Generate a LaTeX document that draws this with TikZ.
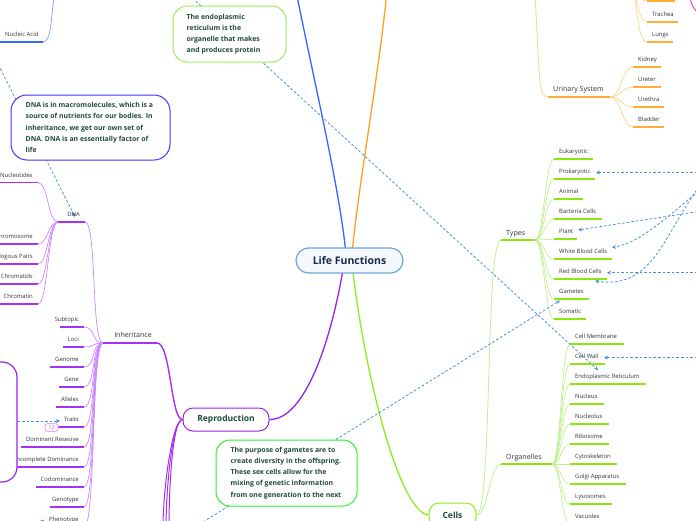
\documentclass[tikz,border=0pt]{standalone}
\usepackage{fontspec}
\setmainfont{Open Sans}
\usetikzlibrary{arrows.meta}
\pgfdeclarelayer{bg}\pgfdeclarelayer{mid}\pgfsetlayers{bg,mid,main}
\definecolor{txt}{HTML}{333333}
\definecolor{callt}{HTML}{1F4A3C}
\definecolor{navy}{HTML}{1B2A4E}
\definecolor{ctrB}{HTML}{6EA6D8}
\definecolor{ctrF}{HTML}{F4F8FC}
\definecolor{blueB}{HTML}{3366FF}
\definecolor{blueL}{HTML}{7A9BFF}
\definecolor{orgB}{HTML}{FFA020}
\definecolor{orgU}{HTML}{FFAE3A}
\definecolor{orgL}{HTML}{FFD38A}
\definecolor{purB}{HTML}{9A22E8}
\definecolor{purU}{HTML}{A830F0}
\definecolor{purL}{HTML}{CC88FF}
\definecolor{grnB}{HTML}{88EE22}
\definecolor{grnU}{HTML}{88E810}
\definecolor{grnL}{HTML}{C0F090}
\definecolor{relc}{HTML}{4A90E2}
\definecolor{dnaBd}{HTML}{4433FF}
\definecolor{endBd}{HTML}{99EE55}
\definecolor{gamBd}{HTML}{33EE33}
\definecolor{magL}{HTML}{EE44CC}
% left-side leaf: name, text, x left, x right, y of underline, colour
\newcommand\leafL[6]{%
  \coordinate (#1-l) at (#3,#5);
  \coordinate (#1-r) at (#4,#5);
  \draw[ul,#6] (#1-l) -- (#1-r);
  \node[lbl,anchor=base east] (#1) at (#4-5,#5-5.5) {#2};}
% right-side leaf
\newcommand\leafR[6]{%
  \coordinate (#1-l) at (#3,#5);
  \coordinate (#1-r) at (#4,#5);
  \draw[ul,#6] (#1-l) -- (#1-r);
  \node[lbl,anchor=base west] (#1) at (#3+5,#5-5.5) {#2};}
\begin{document}
\begin{tikzpicture}[x=1pt,y=-1pt,
  lbl/.style={font=\fontsize{5.9}{7}\selectfont,text=txt,inner sep=0pt},
  mlbl/.style={font=\fontsize{7.1}{8}\selectfont,text=txt,inner sep=0pt},
  ul/.style={line width=1.7pt},
  brc/.style={line width=0.7pt},
  rel/.style={draw=relc,line width=0.8pt,dash pattern=on 2.6pt off 2pt,-{Stealth[length=4pt,width=4pt]}},
  cbox/.style={draw,line width=1pt,fill=white,rounded corners=14pt,inner sep=0pt},
  ctxt/.style={font=\bfseries\fontsize{6.9}{11.1}\selectfont,text=callt,align=left,inner sep=0pt,anchor=west},
  topic/.style={draw,line width=1pt,fill=white,rounded corners=10pt,inner sep=0pt,font=\bfseries\fontsize{8.5}{10}\selectfont,text=callt}]
\useasboundingbox (0,0) rectangle (696,520);
\clip (0,0) rectangle (696,520);

% ---------- free ends ----------
\coordinate (blueTop) at (297,-4);
\coordinate (orgTop) at (386.5,-4);
\coordinate (naTop) at (54,-4);
\coordinate (urinTop) at (535,-4);
\coordinate (respP) at (626,-20);
\coordinate (magTop) at (689,-4);
\coordinate (magEnd) at (700,14);
\coordinate (dn1) at (163,528);
\coordinate (dn2) at (166,528);
\coordinate (dn3) at (169,528);

% ---------- main nodes ----------
\node[draw=ctrB,fill=ctrF,line width=1.2pt,rounded corners=12.5pt,minimum width=107pt,minimum height=25pt,inner sep=0pt,font=\bfseries\fontsize{10.5}{12}\selectfont,text=navy] (ctr) at (349.5,260.5) {Life Functions};
\node[topic,draw=purB,minimum width=86pt,minimum height=23pt] (repro) at (226,419.5) {Reproduction};
\node[topic,draw=grnB,minimum width=47pt,minimum height=24pt] (cells) at (452.5,515) {Cells};

% ---------- blue ----------
\leafR{na}{Nucleic Acid}{0}{43}{42}{blueB}

% ---------- purple ----------
\leafL{dna}{DNA}{58}{85}{222}{purU}
\leafL{nucleo}{Nucleotides}{-2}{38}{182.5}{purU}
\leafL{chromo}{Chromosome}{-2}{38}{244}{purU}
\leafL{homo}{Homologous Pairs}{-2}{38}{264}{purU}
\leafL{chromd}{Chromatids}{-2}{38}{284}{purU}
\leafL{chromn}{Chromatin}{-2}{38}{304}{purU}

\coordinate (inh-l) at (103,343);
\coordinate (inh-r) at (157,343);
\draw[ul,purU,line width=2pt] (inh-l) -- (inh-r);
\node[mlbl,anchor=base east] (inh) at (152,337) {Inheritance};

\leafL{subt}{Subtopic}{60}{84}{327}{purU}
\leafL{loci}{Loci}{63}{84}{347}{purU}
\leafL{genome}{Genome}{50}{84}{367}{purU}
\leafL{gene}{Gene}{59}{84}{387}{purU}
\leafL{alle}{Alleles}{56}{84}{407}{purU}
\leafL{traits}{Traits}{57}{84}{427}{purU}
\leafL{domres}{Dominant Resesive}{21}{84}{447}{purU}
\leafL{incdom}{Incomplete Dominance}{14}{84}{467}{purU}
\leafL{codom}{Codominance}{36}{84}{487}{purU}
\leafL{genot}{Genotype}{50}{84}{507}{purU}
\leafL{phenot}{Phenotype}{48}{84}{527}{purU}

\node[draw=purB,fill=white,line width=1.2pt,rounded corners=15pt,minimum width=94pt,minimum height=120pt,inner sep=0pt] (pbox) at (-30,422) {};
\node[draw=purL,fill=white,line width=0.6pt,rounded corners=2pt,minimum width=13pt,minimum height=7.5pt,inner sep=0pt,font=\fontsize{5}{5}\selectfont,text=purU] (badge) at (51.5,427.5) {12};

% ---------- green ----------
\coordinate (types-l) at (501,240);
\coordinate (types-r) at (535,240);
\draw[ul,grnU,line width=2.2pt] (types-l) -- (types-r);
\node[mlbl,anchor=base west] (types) at (506,235) {Types};

\leafR{euk}{Eukaryotic}{554}{593}{159.3}{grnU}
\leafR{prok}{Prokaryotic}{554}{595}{179.3}{grnU}
\leafR{anim}{Animal}{554}{583}{199.3}{grnU}
\leafR{bact}{Bacteria Cells}{554}{602}{219.3}{grnU}
\leafR{plant}{Plant}{554}{577}{239.3}{grnU}
\leafR{wbc}{White Blood Cells}{554}{612}{259.3}{grnU}
\leafR{rbc}{Red Blood Cells}{554}{607}{279.3}{grnU}
\leafR{gam}{Gametes}{554}{589}{299.3}{grnU}
\leafR{soma}{Somatic}{554}{586}{319.3}{grnU}

\coordinate (org-l) at (501,464.3);
\coordinate (org-r) at (552,464.3);
\draw[ul,grnU,line width=2.2pt] (org-l) -- (org-r);
\node[mlbl,anchor=base west] (org) at (506,459) {Organelles};

\leafR{cmem}{Cell Membrane}{570}{624}{344.3}{grnU}
\leafR{cwall}{Cell Wall}{570}{605}{364.3}{grnU}
\leafR{er}{Endoplasmic Reticulum}{570}{646}{384.3}{grnU}
\leafR{nucl}{Nucleus}{570}{604}{404.3}{grnU}
\leafR{nuclo}{Nucleolus}{570}{609}{424.3}{grnU}
\leafR{ribo}{Ribosome}{570}{609}{444.3}{grnU}
\leafR{cyto}{Cytoskeleton}{570}{617}{464.3}{grnU}
\leafR{golgi}{Golgi Apparatus}{570}{626}{484.3}{grnU}
\leafR{lyso}{Lysosomes}{570}{612}{504.3}{grnU}
\leafR{vacu}{Vacuoles}{570}{610}{524.3}{grnU}

% ---------- orange ----------
\coordinate (urin-l) at (548,97);
\coordinate (urin-r) at (610,97);
\draw[ul,orgU,line width=2pt] (urin-l) -- (urin-r);
\node[mlbl,anchor=base west] (urin) at (553,91.5) {Urinary System};
\leafR{kid}{Kidney}{633}{661}{67}{orgU}
\leafR{uret}{Ureter}{633}{661}{87}{orgU}
\leafR{ureth}{Urethra}{633}{664}{107}{orgU}
\leafR{blad}{Bladder}{633}{664}{127}{orgU}
\coordinate (resp0-l) at (647,1);
\coordinate (resp0-r) at (675,1);
\draw[ul,orgU] (resp0-l) -- (resp0-r);
\leafR{trach}{Trachea}{647}{678}{22}{orgU}
\leafR{lungs}{Lungs}{647}{673}{42}{orgU}

% ---------- callouts ----------
\node[cbox,draw=dnaBd,minimum width=159pt,minimum height=65pt,rounded corners=16pt] (dnaBox) at (90.5,127.5) {};
\node[ctxt] (dnaTxt) at ([xshift=15pt]dnaBox.west) {DNA is in macromolecules, which is a\\source of nutrients for our bodies. In\\inheritance, we get our own set of\\DNA. DNA is an essentially factor of\\life};
\node[cbox,draw=endBd,minimum width=113pt,minimum height=56pt] (endoBox) at (229.5,34) {};
\node[ctxt] (endoTxt) at ([xshift=14pt]endoBox.west) {The endoplasmic\\reticulum is the\\organelle that makes\\and produces protein};
\node[cbox,draw=gamBd,minimum width=141pt,minimum height=66pt] (gamBox) at (286.5,473) {};
\node[ctxt] (gamTxt) at ([xshift=15pt]gamBox.west) {The purpose of gametes are to\\create diversity in the offspring.\\These sex cells allow for the\\mixing of genetic information\\from one generation to the next};

% ---------- relationship arrows ----------
\coordinate (dnaSrc) at (-12,44);   \coordinate (dnaTip) at (75,217);
\coordinate (erSrc) at (189,-5);    \coordinate (erTip) at (598,370);
\coordinate (gamSrc) at (203,522);  \coordinate (gamTip) at (560,300.5);
\coordinate (pkSrc) at (702,172.5); \coordinate (pkTip) at (596,172.5);
\coordinate (plSrc) at (702,211);   \coordinate (plTip) at (578,230);
\coordinate (wbSrc) at (702,188);   \coordinate (wbTip) at (612,247.5);
\coordinate (rb2Src) at (702,183);  \coordinate (rb2Tip) at (595,281);
\coordinate (rbSrc) at (702,272.7); \coordinate (rbTip) at (607,272.7);
\coordinate (cwSrc) at (702,357.7); \coordinate (cwTip) at (604,357.7);
\coordinate (trTip) at (60,421);
\coordinate (phSrc) at (34,530);    \coordinate (phTip) at (44,519.5);

\begin{pgfonlayer}{mid}
\draw[rel] (dnaSrc) -- (dnaTip);
\draw[rel] (erSrc) -- (erTip);
\draw[rel] (gamSrc) -- (gamTip);
\draw[rel] (pkSrc) -- (pkTip);
\draw[rel] (plSrc) -- (plTip);
\draw[rel] (wbSrc) .. controls (670,215) and (640,243) .. (wbTip);
\draw[rel] (rb2Src) .. controls (665,230) and (655,290) .. (rb2Tip);
\draw[rel] (rbSrc) -- (rbTip);
\draw[rel] (cwSrc) -- (cwTip);
\draw[rel] ([yshift=1pt]pbox.east) -- (trTip);
\draw[rel] (phSrc) -- (phTip);
\end{pgfonlayer}

% ---------- branches ----------
\begin{pgfonlayer}{bg}
\draw[blueB,line width=1.3pt] ([xshift=-3pt]ctr.center) .. controls (342,200) and (316,90) .. (blueTop);
\draw[orgB,line width=1.3pt] ([xshift=2pt]ctr.center) .. controls (356,200) and (378,80) .. (orgTop);
\draw[purB,line width=1.3pt] ([xshift=-5pt]ctr.center) .. controls (332,340) and (305,420) .. (repro.east);
\draw[grnB,line width=1.3pt] ([xshift=2pt]ctr.center) .. controls (365,380) and (400,512) .. (cells.west);

\draw[blueL,brc] (na-r) .. controls +(8,0) and (51,20) .. (naTop);

\draw[purU,line width=1.4pt] (inh-r) .. controls +(14,0) and +(-12,0) .. (repro.west);
\foreach \d in {dn1,dn2,dn3}
  \draw[purU,line width=1pt] (repro.west) .. controls +(-10,0) and +(0,-40) .. (\d);
\foreach \c in {dna,subt,loci,genome,gene,alle,traits,domres,incdom,codom,genot,phenot}
  \draw[purL,brc] (inh-l) .. controls +(-12,0) and +(12,0) .. (\c-r);
\foreach \c in {nucleo,chromo,homo,chromd,chromn}
  \draw[purL,brc] (dna-l) .. controls +(-10,0) and +(10,0) .. (\c-r);

\draw[grnL,line width=0.8pt] (cells.east) .. controls +(16,0) and +(-16,0) .. (types-l);
\draw[grnL,line width=0.8pt] (cells.east) .. controls +(12,0) and +(-12,0) .. (org-l);
\foreach \c in {euk,prok,anim,bact,plant,wbc,rbc,gam,soma}
  \draw[grnL,brc] (types-r) .. controls +(9,0) and +(-9,0) .. (\c-l);
\foreach \c in {cmem,cwall,er,nucl,nuclo,ribo,cyto,golgi,lyso,vacu}
  \draw[grnL,brc] (org-r) .. controls +(9,0) and +(-9,0) .. (\c-l);

\draw[orgL,line width=0.8pt] (urinTop) .. controls (540,80) and (538,97) .. (urin-l);
\foreach \c in {kid,uret,ureth,blad}
  \draw[orgL,brc] (urin-r) .. controls +(11,0) and +(-11,0) .. (\c-l);
\foreach \c in {resp0,trach,lungs}
  \draw[orgL,brc] (respP) .. controls +(12,0) and +(-12,0) .. (\c-l);

\draw[magL,line width=1pt] (magTop) .. controls (692,6) and (694,10) .. (magEnd);
\end{pgfonlayer}
\end{tikzpicture}
\end{document}
